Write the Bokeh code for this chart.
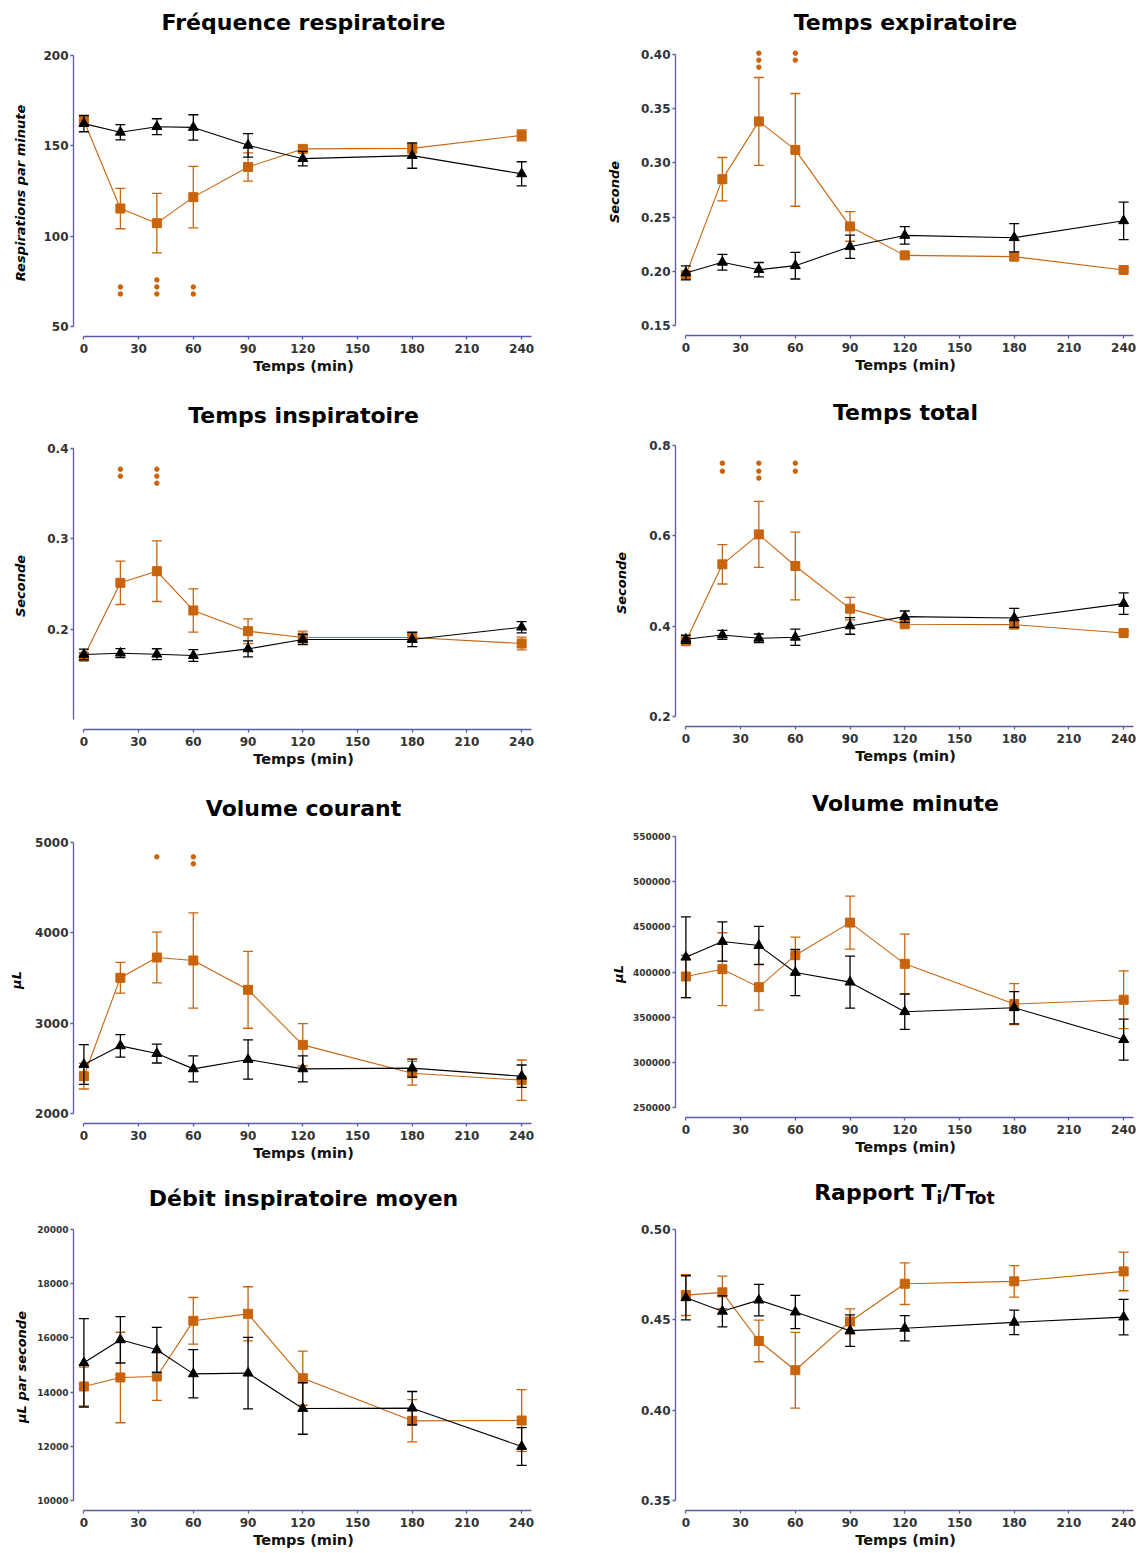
from bokeh.plotting import figure
from bokeh.models import Range1d, FixedTicker, PrintfTickFormatter
from bokeh.layouts import column, row
from bokeh.core.properties import value
from bokeh.embed import file_html
from bokeh.resources import INLINE

# ---------------- data ----------------
temps = [0, 20, 40, 60, 90, 120, 180, 240]
x_ticks = [0, 30, 60, 90, 120, 150, 180, 210, 240]

# Fréquence respiratoire
fr_orange = [163.9, 115.3, 107.2, 121.6, 138.3, 148.3, 148.6, 155.8]
fr_orange_sem = [2.5, 11.2, 16.5, 17.0, 7.8, 1.5, 2.6, 3.0]
fr_black = [162.3, 157.5, 160.6, 160.2, 150.3, 142.9, 144.6, 134.5]
fr_black_sem = [4.5, 4.2, 4.4, 7.0, 6.5, 4.0, 7.0, 6.7]
fr_sig_t = [20, 20, 40, 40, 40, 60, 60]
fr_sig_y = [71.9, 68.0, 75.8, 71.9, 68.0, 71.9, 68.0]
fr_yticks = [50, 100, 150, 200]

# Temps expiratoire
te_orange = [0.1966, 0.285, 0.3383, 0.312, 0.2414, 0.2147, 0.2135, 0.2012]
te_orange_sem = [0.003, 0.020, 0.0405, 0.052, 0.0137, 0.002, 0.003, 0.002]
te_black = [0.1985, 0.2083, 0.2015, 0.2052, 0.2227, 0.2331, 0.231, 0.2466]
te_black_sem = [0.0065, 0.0073, 0.0066, 0.0123, 0.0107, 0.0081, 0.013, 0.0173]
te_sig_t = [40, 40, 40, 60, 60]
te_sig_y = [0.4012, 0.3948, 0.3883, 0.4012, 0.3948]
te_yticks = [0.15, 0.20, 0.25, 0.30, 0.35, 0.40]

# Temps inspiratoire
ti_orange = [0.1694, 0.2513, 0.2642, 0.2207, 0.1978, 0.1908, 0.1908, 0.1841]
ti_orange_sem = [0.004, 0.024, 0.0336, 0.024, 0.0137, 0.007, 0.005, 0.007]
ti_black = [0.172, 0.1734, 0.1723, 0.1708, 0.1782, 0.1886, 0.1886, 0.2022]
ti_black_sem = [0.006, 0.005, 0.006, 0.0065, 0.0088, 0.0057, 0.008, 0.0062]
ti_sig_t = [20, 20, 40, 40, 40]
ti_sig_y = [0.3771, 0.3694, 0.3771, 0.3694, 0.3616]
ti_yticks = [0.2, 0.3, 0.4]
ti_axis_min = 0.1

# Temps total
tt_orange = [0.3666, 0.5369, 0.6032, 0.5332, 0.4388, 0.4042, 0.4034, 0.385]
tt_orange_sem = [0.005, 0.0435, 0.073, 0.075, 0.025, 0.004, 0.005, 0.003]
tt_black = [0.371, 0.3806, 0.3732, 0.3754, 0.4005, 0.4211, 0.4182, 0.4499]
tt_black_sem = [0.0089, 0.01, 0.0095, 0.018, 0.0184, 0.0125, 0.021, 0.024]
tt_sig_t = [20, 20, 40, 40, 40, 60, 60]
tt_sig_y = [0.7609, 0.7432, 0.7609, 0.7432, 0.7278, 0.7609, 0.7432]
tt_yticks = [0.2, 0.4, 0.6, 0.8]

# Volume courant
vc_orange = [2413, 3502, 3727, 3694, 3369, 2760, 2446, 2369]
vc_orange_sem = [142, 170, 280, 527, 425, 234, 131, 223]
vc_black = [2542, 2749, 2664, 2494, 2598, 2494, 2502, 2413]
vc_black_sem = [220, 125, 105, 143, 218, 143, 100, 124]
vc_sig_t = [40, 60, 60]
vc_sig_y = [4841, 4841, 4764]
vc_yticks = [2000, 3000, 4000, 5000]

# Volume minute
vm_orange = [395030, 403130, 383250, 418590, 454660, 409020, 364480, 369260]
vm_orange_sem = [23500, 40300, 25400, 20000, 29300, 33000, 22700, 32000]
vm_black = [416380, 433680, 429270, 399450, 388770, 356010, 360430, 325100]
vm_black_sem = [44700, 21700, 21200, 25600, 28700, 19500, 17800, 22700]
vm_yticks = [250000, 300000, 350000, 400000, 450000, 500000, 550000]

# Débit inspiratoire moyen
di_orange = [14207, 14539, 14576, 16630, 16888, 14514, 12940, 12952]
di_orange_sem = [714, 1670, 880, 860, 1000, 1000, 780, 1140]
di_black = [15080, 15929, 15560, 14674, 14699, 13395, 13407, 11993]
di_black_sem = [1630, 855, 830, 890, 1320, 950, 615, 695]
di_yticks = [10000, 12000, 14000, 16000, 18000, 20000]

# Rapport Ti/TTot
rt_orange = [0.4637, 0.4652, 0.4383, 0.4221, 0.4491, 0.47, 0.4713, 0.4768]
rt_orange_sem = [0.0113, 0.009, 0.0115, 0.021, 0.007, 0.0115, 0.0087, 0.0107]
rt_black = [0.4622, 0.4547, 0.4609, 0.4543, 0.444, 0.4453, 0.4486, 0.4515]
rt_black_sem = [0.0122, 0.0086, 0.0087, 0.0092, 0.0087, 0.007, 0.0068, 0.0098]
rt_yticks = [0.35, 0.40, 0.45, 0.50]
rt_title_parts = ["Rapport T", "i", "/T", "Tot"]

# ---------------- style ----------------
FONT = "DejaVu Sans"
ORANGE = "#c8640c"
BLACK = "#000000"
AXIS_C = "#5b5ba8"
TICK_C = "#333333"

FRAME_H = 287
SPAN_PX = 271
AX_GAP = 10
TOP_PAD = 6
X_START, X_END = -5.7, 246.5
FW = {"L": 460, "R": 460}
BL = {"L": 73, "R": 95}
BR = {"L": 47, "R": 5}
EM = {"R": .770, "a": .675, "p": .716, "o": .687, "r": .493, "t": .478, " ": .348,
      "T": .682, "i": .343, "/": .365}


def title_fig(side, height, parts, sizes, bases):
    """A strip above a panel holding its title (parts allow subscripts)."""
    t = figure(frame_width=FW[side], frame_height=height,
               x_range=Range1d(0, FW[side]), y_range=Range1d(0, height),
               min_border_left=BL[side], min_border_right=BR[side],
               min_border_top=0, min_border_bottom=0,
               x_axis_location=None, y_axis_location=None,
               output_backend="svg", toolbar_location=None, tools="")
    t.outline_line_color = None
    t.grid.visible = False
    t.background_fill_color = "white"
    t.border_fill_color = "white"
    xpos = FW[side] / 2
    if len(parts) == 1:
        t.text(x=[xpos], y=[bases[0]], text=parts,
               text_font=value(FONT), text_font_size=f"{sizes[0]}px", text_font_style="bold",
               text_color="black", text_align="center", text_baseline="alphabetic")
        return t
    widths = [sum(EM.get(c, .7) for c in s) * fs for s, fs in zip(parts, sizes)]
    xoff = -sum(widths) / 2
    for s, fs, b, w in zip(parts, sizes, bases, widths):
        t.text(x=[xpos], y=[b], text=[s], x_offset=xoff,
               text_font=value(FONT), text_font_size=f"{fs}px", text_font_style="bold",
               text_color="black", text_align="left", text_baseline="alphabetic")
        xoff += w
    return t


def make_panel(side, ylabel, yticks, fmt, tick_fs, ylab_standoff, bottom_b,
               o_mean, o_sem, b_mean, b_sem, sig_t=None, sig_y=None, axis_min=None):
    lo, hi = yticks[0], yticks[-1]
    if axis_min is not None:
        lo = axis_min
    ppu = SPAN_PX / (hi - lo)
    p = figure(frame_width=FW[side], frame_height=FRAME_H,
               x_range=Range1d(X_START, X_END),
               y_range=Range1d(lo - AX_GAP / ppu, hi + TOP_PAD / ppu),
               min_border_left=BL[side], min_border_right=BR[side],
               min_border_top=0, min_border_bottom=bottom_b,
               output_backend="svg", toolbar_location=None, title=None)
    p.outline_line_color = None
    p.grid.visible = False
    p.background_fill_color = "white"
    p.border_fill_color = "white"

    for ax in (p.xaxis[0], p.yaxis[0]):
        ax.axis_line_color = AXIS_C
        ax.axis_line_width = 1.3
        ax.major_tick_line_color = AXIS_C
        ax.major_tick_line_width = 1.3
        ax.major_tick_out = 3
        ax.major_tick_in = 0
        ax.minor_tick_line_color = None
        ax.major_label_text_font = FONT
        ax.major_label_text_font_style = "bold"
        ax.major_label_text_color = TICK_C

    xa = p.xaxis[0]
    xa.bounds = (0, 245.5)
    xa.ticker = FixedTicker(ticks=x_ticks)
    xa.major_label_text_font_size = "12px"
    xa.major_label_standoff = 4
    xa.axis_label = "Temps (min)"
    xa.axis_label_text_font = FONT
    xa.axis_label_text_font_size = "14.5px"
    xa.axis_label_text_font_style = "bold"
    xa.axis_label_text_color = "#111111"
    xa.axis_label_standoff = 2

    ya = p.yaxis[0]
    ya.bounds = (lo, hi)
    ya.ticker = FixedTicker(ticks=yticks)
    ya.formatter = PrintfTickFormatter(format=fmt)
    ya.major_label_text_font_size = tick_fs
    ya.major_label_standoff = 2
    if ylabel:
        ya.axis_label = ylabel
        ya.axis_label_text_font = FONT
        ya.axis_label_text_font_size = "13px"
        ya.axis_label_text_font_style = "bold italic"
        ya.axis_label_text_color = "black"
        ya.axis_label_standoff = ylab_standoff

    for mean, sem, color, marker, size in (
            (o_mean, o_sem, ORANGE, "square", 9),
            (b_mean, b_sem, BLACK, "triangle", 10)):
        up = [m + s for m, s in zip(mean, sem)]
        dn = [m - s for m, s in zip(mean, sem)]
        p.segment(x0=temps, y0=dn, x1=temps, y1=up, line_color=color, line_width=1.3)
        p.scatter(x=temps, y=up, marker="dash", size=10, line_color=color, line_width=1.3)
        p.scatter(x=temps, y=dn, marker="dash", size=10, line_color=color, line_width=1.3)
        p.line(x=temps, y=mean, line_color=color, line_width=1.1)
        p.scatter(x=temps, y=mean, marker=marker, size=size, fill_color=color,
                  line_color=color)

    if sig_t:
        p.scatter(x=sig_t, y=sig_y, marker="circle", size=4.5,
                  fill_color=ORANGE, line_color=ORANGE)
    return p


def cell(title_parts, t_sizes, t_bases, t_height, side, *args, **kw):
    return column(title_fig(side, t_height, title_parts, t_sizes, t_bases),
                  make_panel(side, *args, **kw))


c1 = cell(["Fréquence respiratoire"], [22], [27.4], 49, "L",
          "Respirations par minute", fr_yticks, "%d", "12px", 12, 54,
          fr_orange, fr_orange_sem, fr_black, fr_black_sem, sig_t=fr_sig_t, sig_y=fr_sig_y)
c2 = cell(["Temps expiratoire"], [22], [26.3], 48, "R",
          "Seconde", te_yticks, "%.2f", "12px", 16, 55,
          te_orange, te_orange_sem, te_black, te_black_sem, sig_t=te_sig_t, sig_y=te_sig_y)
c3 = cell(["Temps inspiratoire"], [22], [27], 52, "L",
          "Seconde", ti_yticks, "%.1f", "12px", 16, 50,
          ti_orange, ti_orange_sem, ti_black, ti_black_sem, sig_t=ti_sig_t, sig_y=ti_sig_y,
          axis_min=ti_axis_min)
c4 = cell(["Temps total"], [22], [27.3], 49, "R",
          "Seconde", tt_yticks, "%.1f", "12px", 17, 53,
          tt_orange, tt_orange_sem, tt_black, tt_black_sem, sig_t=tt_sig_t, sig_y=tt_sig_y)
c5 = cell(["Volume courant"], [22], [27.7], 57, "L",
          "μL", vc_yticks, "%d", "12px", 8, 44,
          vc_orange, vc_orange_sem, vc_black, vc_black_sem, sig_t=vc_sig_t, sig_y=vc_sig_y)
c6 = cell(["Volume minute"], [22], [27], 51, "R",
          "μL", vm_yticks, "%d", "9px", 4, 50,
          vm_orange, vm_orange_sem, vm_black, vm_black_sem)
c7 = cell(["Débit inspiratoire moyen"], [22], [24.7], 56, "L",
          "μL par seconde", di_yticks, "%d", "9px", 5, 5,
          di_orange, di_orange_sem, di_black, di_black_sem)
c8 = cell(rt_title_parts, [22, 17, 22, 17], [31, 25.5, 31, 25.5], 56, "R",
          None, rt_yticks, "%.2f", "12px", 0, 5,
          rt_orange, rt_orange_sem, rt_black, rt_black_sem)

layout = column(row(c1, c2), row(c3, c4), row(c5, c6), row(c7, c8))

open("out.html", "w").write(file_html(layout, INLINE))
